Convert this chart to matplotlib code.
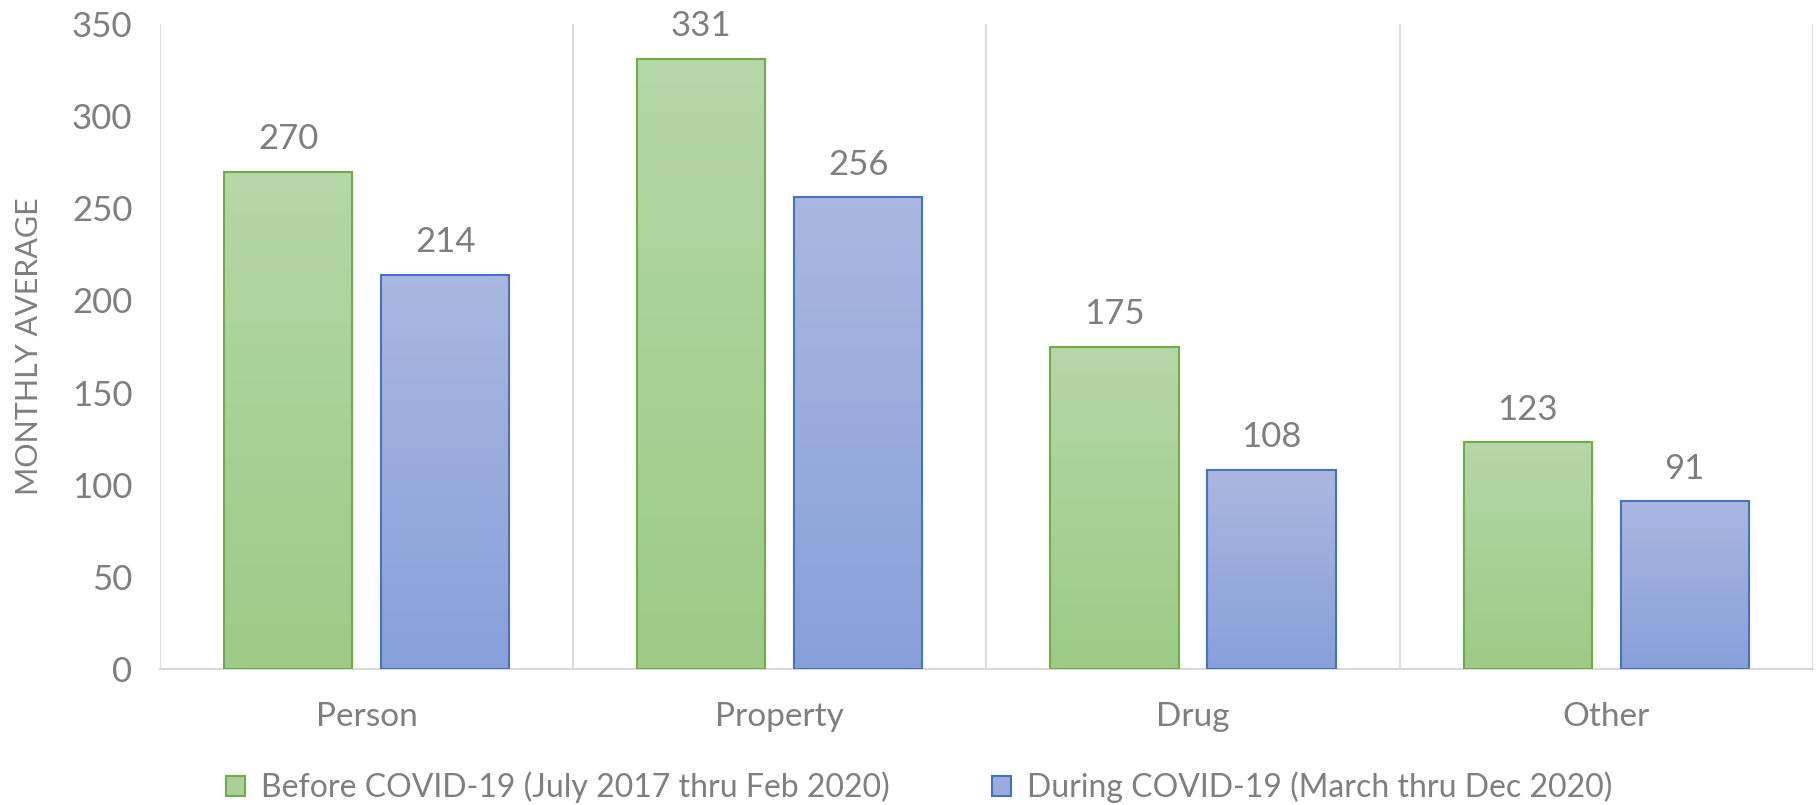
import matplotlib
matplotlib.use('Agg')
import matplotlib.pyplot as plt
import numpy as np
from matplotlib.colors import LinearSegmentedColormap
from matplotlib.patches import Patch

categories = ['Person', 'Property', 'Drug', 'Other']
before = [270, 331, 175, 123]
during = [214, 256, 108, 91]
series_names = ['Before COVID-19 (July 2017 thru Feb 2020)',
                'During COVID-19 (March thru Dec 2020)']

plt.rcParams['font.family'] = ['Lato', 'DejaVu Sans']
gray = '#7f7f7f'

fig = plt.figure(figsize=(18.2, 8.05), dpi=100)
ax = fig.add_axes([0.088, 0.169, 0.908, 0.801])

x = np.arange(len(categories))
width = 0.31
offset = 0.19

styles = [
    (before, -offset, '#b6d7a8', '#9ccb86', '#70ad47'),
    (during, offset, '#aab7e0', '#88a0da', '#4472c4'),
]

grad = np.linspace(0, 1, 256).reshape(-1, 1)
for vals, off, top_c, bot_c, edge in styles:
    cmap = LinearSegmentedColormap.from_list('g', [top_c, bot_c])
    bars = ax.bar(x + off, vals, width, facecolor='none', edgecolor=edge,
                  linewidth=1.5, zorder=3)
    for b, v in zip(bars, vals):
        x0 = b.get_x()
        ax.imshow(grad, cmap=cmap, aspect='auto', zorder=2,
                  extent=(x0, x0 + width, 0, v), origin='upper')
        ax.annotate(str(v), (b.get_x() + width / 2, v), xytext=(0, 12),
                    textcoords='offset points', ha='center', va='bottom',
                    fontsize=25, color=gray)

ax.set_xlim(-0.5, len(categories) - 0.5)
ax.set_ylim(0, 350)
ax.set_yticks(np.arange(0, 351, 50))
ax.set_xticks(x)
ax.set_xticklabels(categories)
ax.tick_params(axis='y', length=0, labelsize=25, labelcolor=gray, pad=20)
ax.tick_params(axis='x', length=0, labelsize=24, labelcolor=gray, pad=24)

# category separators
for s in np.arange(-0.5, len(categories), 1.0):
    ax.axvline(s, color='#d9d9d9', linewidth=1.3, zorder=1)

for side in ['top', 'right', 'left']:
    ax.spines[side].set_visible(False)
ax.spines['bottom'].set_color('#d9d9d9')
ax.spines['bottom'].set_linewidth(1.5)

ax.set_ylabel('MONTHLY AVERAGE', fontsize=22, color=gray)
ax.yaxis.set_label_coords(-0.071, 0.5)

handles = [Patch(facecolor='#aacf97', edgecolor='#70ad47', linewidth=1.5),
           Patch(facecolor='#99acdd', edgecolor='#4472c4', linewidth=1.5)]
fig.legend(handles, series_names, loc='center', bbox_to_anchor=(0.505, 0.022),
           ncol=2, frameon=False, fontsize=23, labelcolor=gray,
           handlelength=0.6, handleheight=0.6, handletextpad=0.5,
           columnspacing=3.2)

fig.savefig('out.png', dpi=100)
